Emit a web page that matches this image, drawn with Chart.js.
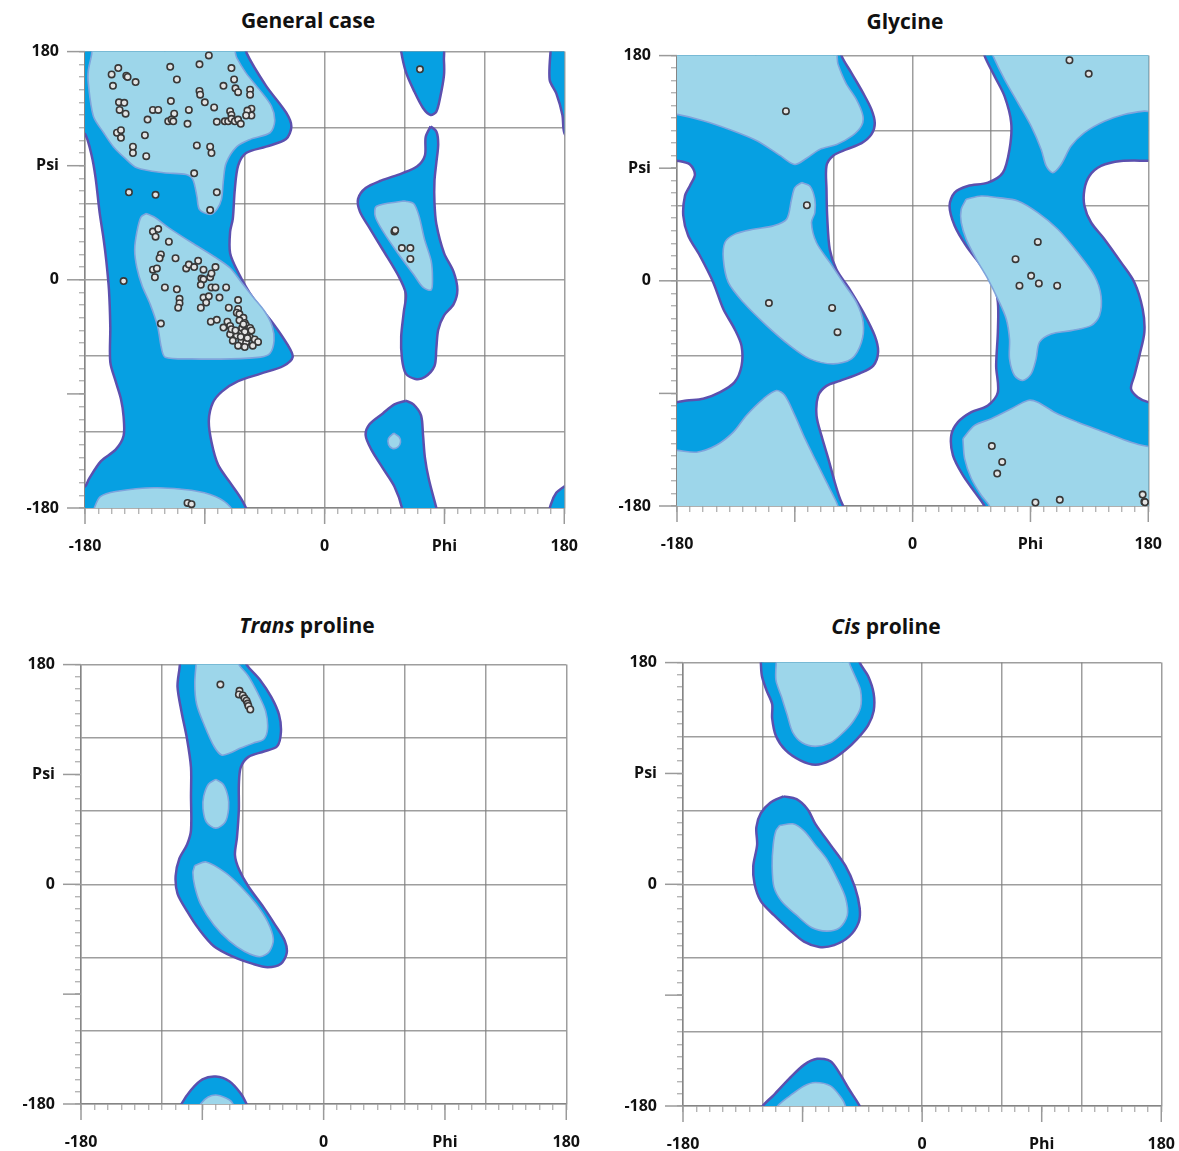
<!DOCTYPE html>
<html>
<head>
<meta charset="utf-8">
<script src="https://cdn.jsdelivr.net/npm/chart.js"></script>
<style>
  body { margin: 0; background: #fff; width: 1179px; height: 1151px; position: relative; overflow: hidden; font-family: 'Open Sans', sans-serif; }
  .titulo { position: absolute; width: 400px; text-align: center; font-weight: bold; font-size: 21px; color: #111; }
  canvas { position: absolute; }
</style>
</head>
<body>
<div class="titulo" style="left:108px;top:6px">General case</div>
<div class="titulo" style="left:705px;top:7px">Glycine</div>
<div class="titulo" style="left:107px;top:611px"><i>Trans</i> proline</div>
<div class="titulo" style="left:686px;top:612px"><i>Cis</i> proline</div>
<canvas id="general"></canvas>
<canvas id="glicina"></canvas>
<canvas id="trans"></canvas>
<canvas id="cis"></canvas>
<script>
// etiquetas de los ejes
const phiValores = [-180, 0, 90, 180]
const phiEtiquetas = ['-180', '0', 'Phi', '180']
const psiValores = [-180, 0, 90, 180]
const psiEtiquetas = ['-180', '0', 'Psi', '180']
const marcasMayores = [-180, -90, 0, 90, 180]

// General case: regiones permitidas (azul oscuro)
const generalPermitida1 = [[-185,185],[-58,185],[-58.7,179],[-44,153],[-29,132],[-25,121],[-29,111],[-44,105],[-59,100],[-65,90],[-67.5,71],[-69,48],[-71,38],[-71,21],[-65,6],[-54,-14],[-39,-34],[-28,-51],[-24,-61],[-31,-68],[-48,-74],[-65,-80],[-77,-88],[-84,-97],[-87,-111],[-85,-128],[-80,-146],[-71,-160],[-62,-174],[-59,-185],[-185,-185],[-185,-163],[-180,-163],[-177,-157],[-168,-143],[-157,-134],[-151,-123],[-151,-108],[-153,-94],[-157,-80],[-161,-65],[-161,-37],[-162,-8],[-164,15],[-166,32],[-169,53],[-172,80],[-175,98],[-180,115],[-185,115]]
const generalPermitida2 = [[79.6,121],[83.9,117],[85.3,107],[83.9,92.5],[82.5,78],[82.5,61],[83.9,44],[89.7,21],[96.8,6.4],[99.7,-8],[96.8,-19.4],[89.7,-28],[85.3,-39.5],[83.9,-54],[82.5,-68],[75.3,-76.7],[68.1,-78.2],[61,-74],[58.1,-62.4],[57.5,-45],[59.5,-25],[61,-11],[55.2,3.6],[43.7,23.7],[33.7,41],[26.5,53.8],[25.1,63.8],[30.8,72.4],[42.3,78.2],[58.1,84],[69.6,89.6],[75.3,98],[75.9,112.6]]
const generalPermitida3 = [[57.5,185],[57.5,180],[61,164],[66.7,150],[73.9,135.5],[79.6,130],[83.9,132.7],[86.8,144],[89.6,161],[89.6,173],[88.2,185]]
const generalPermitida4 = [[61,-95.4],[66.7,-98.3],[72.4,-107],[73.9,-122.6],[75.3,-140],[78.2,-157],[83.9,-180],[85,-185],[57,-185],[58.1,-180],[52.4,-163],[43.7,-148.5],[35.1,-134],[30.8,-122.6],[33.7,-114],[43.7,-105.4],[52.4,-98.3]]
const generalPermitida5 = [[170,185],[169,158],[174,147],[178.6,130],[180,116],[185,110],[185,185]]
const generalPermitida6 = [[185,-160],[180,-163],[174,-168],[170,-177],[169,-185],[185,-185]]
// General case: regiones favorecidas (azul claro)
const generalFavorecida1 = [[-175,185],[-175,178],[-177.5,165],[-177.5,155],[-173.7,129],[-166,116],[-158.7,105],[-150,96],[-141,88.4],[-121,84.4],[-104,83],[-99,79],[-96,66],[-94,55.5],[-86,51.6],[-81,55.5],[-77.5,63.4],[-76,79],[-74,92],[-66,105],[-56,110.7],[-41,116],[-37.5,125],[-40,137],[-49,150],[-59,163],[-66,175],[-70,185]]
const generalFavorecida2 = [[-134,52.3],[-128,49.5],[-117,41],[-100,29.4],[-82.5,18],[-71,9.3],[-62.4,-2.2],[-53.8,-13.6],[-45,-25],[-39.4,-36.6],[-38,-48],[-41,-58],[-48,-61],[-71,-62.4],[-99.7,-62.4],[-119.8,-61],[-122.6,-53.8],[-125.5,-36.6],[-131,-19.4],[-137,-5],[-141,9.3],[-142.7,23.7],[-141,38],[-138,49.5]]
const generalFavorecida3 = [[-174,-185],[-173,-180],[-168.5,-171],[-157,-167],[-128,-164],[-100,-166],[-82,-171],[-71,-179],[-70,-185]]
const generalFavorecida4 = [[58,62],[39,58],[38,50],[44,38],[55,21],[67,4],[74,-6],[80,-8],[81,1],[80,15],[75,32],[71,50],[67,60],[61,62]]
const generalFavorecida5 = [[52,-121],[56,-124],[57,-128],[55,-132],[51,-133],[48,-130],[48,-125]]
const generalPuntos = [
  [-160,162],[-155,167],[-149,161],[-148,160],[-142,156],[-159,153],[-116,168],[-111,158],[-94,170],[-87,177],
  [-70,167],[-68,158],[-76,153],[-94,149],[-93.5,146],[-67,151],[-65,148],[-56,150],[-56,146],[-115.5,141],
  [-90,140],[-83,136],[-154.5,140],[-150.5,139.6],[-154,134],[-149.5,131],[-129,134],[-125,134],[-113,131],[-102,134],
  [-71,133],[-70,130],[-55,135],[-55,129.6],[-58,133.5],[-59,129.6],[-133,126.4],[-117.5,125],[-115,126.4],[-113.7,125],
  [-103,123],[-81,124.6],[-75,125],[-72.5,125],[-70,127],[-67.5,125],[-65,126.4],[-63,123],[-156,116],[-153,118],
  [-153,112],[-135,114],[-144,105],[-144,100],[-134,97.5],[-96,106],[-86,105],[-85,100],[-98,84],[-147,69],
  [-127,67],[-81,69],[-86,55],[-151,-1],
  [-129,38],[-125,40],[-127,34],[-117,30],[-123,20],[-124,17],[-112,17],[-129,8],[-126,9],[-127.5,2],
  [-104,9],[-102,12],[-98,10],[-95,15],[-91,8],[-82,10],[-92.5,1],[-91,0.4],[-86,2],[-85,5],
  [-120,-6],[-111,-7.5],[-93,-4],[-85,-6],[-82,-6],[-74,-6],[-109,-15],[-109,-18.5],[-110,-22],[-91,-14],
  [-87,-13],[-89,-18],[-79,-14],[-93,-22],[-72,-22],[-65,-16],[-65,-23],[-123,-34.5],[-85.5,-33],[-81,-31.6],
  [-76,-37.7],[-73,-33],[-71,-36.4],[-66,-26],[-64,-27],[-61,-30],[-64,-32],[-60,-34],[-59,-36],[-56,-38],
  [-61,-40],[-64,-42],[-57.5,-42],[-66,-44],[-60,-44],[-56,-45.5],[-62.5,-48],[-59,-49.5],[-65,-52],[-69,-48],
  [-71,-43],[-70,-39],[-55,-40],[-52.5,-47],[-50,-49],[-54,-52],[-60,-53],[-62,-38],[-60,-41],[-63,-45],
  [-58,-46],[-61,-35],[-67,-40],
  [-103,-176],[-100,-177],[52.4,38],[53,39],[58,25],[64.4,25],[64.4,16.5],[71.6,166]
]

// Glycine
const glicinaPermitida1 = [[-185,185],[-54,185],[-54.4,180],[-46.7,166],[-37.8,150],[-31.5,137],[-28.9,126],[-31.5,117],[-39,110],[-50.6,105],[-60.7,100],[-65.8,92],[-65.8,73],[-65.3,52],[-63.3,25],[-58.2,9],[-48,-7],[-37.8,-25],[-28.9,-44],[-26.4,-57],[-30.2,-68],[-40.4,-74],[-55.6,-80],[-65.8,-84],[-72.2,-92],[-73.4,-108],[-69.6,-124],[-64.5,-142],[-59.5,-161],[-55.6,-174],[-53.1,-180],[-52,-185],[-185,-185],[-185,-97],[-180,-97],[-172.6,-95.6],[-160,-94.3],[-147,-89],[-136,-81],[-130.7,-68],[-130.7,-52],[-136,-38.5],[-144.6,-22.5],[-152.3,-1.3],[-162.5,20],[-171.4,36],[-175.2,52],[-173.9,68],[-170.1,76],[-166.3,85],[-170.1,93],[-180,96],[-185,96]]
const glicinaPermitida2 = [[54.9,185],[54.9,180],[62.6,163.5],[70.2,147.6],[75.3,126.3],[74,105],[68.9,86.4],[57.5,78.5],[42.2,75.8],[32.1,70.5],[28.2,60],[32.1,44],[40.9,28],[52.4,12],[61.3,-1.3],[65.1,-17],[65.1,-41],[63.8,-68],[65.1,-89],[57.5,-99.6],[44.8,-105],[34.6,-113],[29.5,-123.6],[30.8,-139.5],[38.4,-155.4],[47.3,-168.7],[54.9,-180],[56,-185],[185,-185],[185,-97],[180,-97],[171.9,-93],[166.8,-86.3],[169.4,-75.7],[173.2,-59.8],[177,-41],[175.7,-22.5],[169.4,-1.3],[159.2,14.7],[146.5,33.3],[136.3,46.6],[131.2,60],[131.2,73],[135,83.8],[143.9,91.8],[159.2,95.7],[180,96],[185,96],[185,185]]
const glicinaFavorecida1 = [[-185,185],[-185,133],[-180,133],[-160,128],[-140,121],[-119,112],[-101,100],[-90,93],[-81,98],[-71,105],[-58,109],[-46,116],[-39,124],[-38,132],[-43,145],[-51,158],[-57,173],[-60,185]]
const glicinaFavorecida2 = [[-84.9,78.5],[-78.5,75.8],[-74.7,65.2],[-74.7,54.5],[-77.3,46.6],[-73.5,30.6],[-63.3,14.7],[-53.1,-1.3],[-42.9,-17.2],[-37.8,-33.2],[-39.1,-49.1],[-46.7,-62.4],[-60.7,-66.4],[-78.5,-62.4],[-93.8,-51.8],[-111.6,-35.8],[-129.4,-17.2],[-140.8,-1.3],[-144.6,17.3],[-143.4,30.6],[-135.8,37.3],[-121.8,41.2],[-106.5,43.9],[-96.3,49.2],[-92.5,65.2],[-90,74.5]]
const glicinaFavorecida3 = [[-185,-135.5],[-180,-135.5],[-165,-137],[-150,-131.5],[-137,-121],[-127,-107.6],[-114,-94.3],[-104,-87.7],[-97.6,-91.7],[-90,-107.6],[-82.3,-126],[-73.4,-145],[-65.8,-161],[-59.5,-174],[-57,-180],[-56,-185],[-185,-185]]
const glicinaFavorecida4 = [[60,185],[61.3,180],[70.2,161],[80.4,142.3],[90.5,123.6],[98.2,105],[102,91.8],[107,86.4],[113.4,93],[121,107.7],[131,118.3],[146.5,127.6],[161.7,133],[177,135.6],[185,136],[185,185]]
const glicinaFavorecida5 = [[40.9,65.2],[52.4,67.8],[65.1,66.5],[80.4,63.8],[95.6,54.5],[110.9,41.2],[126.1,22.6],[138.9,4],[143.9,-12],[142.7,-28],[136.3,-35.8],[121,-39.8],[105.8,-42.5],[96.9,-49],[94.3,-62.4],[90.5,-74.4],[84.2,-79.7],[77.8,-75.7],[74,-62.4],[74,-46.5],[71.5,-30.5],[65.1,-14.6],[57.5,1.4],[48.6,17.3],[40.9,33.3],[37.1,46.6],[37.1,57.2]]
const glicinaFavorecida6 = [[38.4,-126.2],[47.3,-115.6],[60,-110.3],[75.3,-102.3],[88,-95.6],[95.6,-97],[108.3,-105],[126.1,-113],[146.5,-121],[166.8,-129],[180,-132.5],[185,-133],[185,-185],[59,-185],[58.7,-180],[52.4,-171.4],[44.8,-158],[39.7,-142.2]]
const glicinaPuntos = [[-96.8,135.6],[-80.8,60.4],[-109.8,-17.8],[-61.5,-21.7],[-57.4,-41.1],[119.8,176.3],[134.5,165.4],[95.6,31.1],[78.6,17.3],[90.5,4],[81.6,-3.9],[96.4,-2.1],[110.4,-3.9],[60.5,-132.1],[68.4,-144.8],[64.6,-154.1],[93.8,-177.2],[112.4,-175.1],[175.7,-170.9],[177,-176.7],[177.5,-177]]

// Trans proline
const transPermitida1 = [[-105.5,185],[-57.2,185],[-57.2,180],[-47.3,167.6],[-38.8,153.3],[-33.1,138.9],[-31.7,124.6],[-34.5,113.1],[-44.4,108.8],[-55.8,104.4],[-61.5,95.8],[-62.9,81.5],[-62.9,61.4],[-64.3,38.4],[-65.8,24],[-62.9,12.5],[-55.8,-1.8],[-44.4,-19.1],[-35.9,-33.4],[-28.8,-46.4],[-27.4,-56.4],[-31.7,-65],[-41.6,-67.9],[-53,-65],[-67.2,-59.3],[-81.4,-50.7],[-92.8,-36.3],[-101.3,-22],[-108.4,-7.6],[-109.8,6.8],[-107,21.1],[-101.3,32.6],[-98.4,44.1],[-98.4,72.8],[-98.4,95.8],[-101.3,118.8],[-105.5,141.8],[-108.4,161.9],[-107,176.3],[-106,185]]
const transPermitida2 = [[-107,-185],[-105.5,-180],[-98.4,-168.5],[-89.9,-159.8],[-80,-157.5],[-70,-161.3],[-61.5,-171.3],[-57.2,-180],[-56,-185]]
const transFavorecida1 = [[-94.2,185],[-95.6,164.8],[-94.2,147.5],[-88.5,130.3],[-81.4,113.1],[-75.7,105.9],[-70,107.3],[-61.5,111.6],[-51.6,115.9],[-44.4,118.8],[-41.6,127.4],[-43,141.8],[-48.7,156.2],[-55.8,170.5],[-62.9,180],[-64,185]]
const transFavorecida2 = [[-80,86],[-74.5,82],[-71,72],[-70.5,62],[-73,51],[-80,46],[-87,51],[-89.5,62],[-89,72],[-85.5,82]]
const transFavorecida3 = [[-95.6,15.4],[-87.1,18.3],[-72.9,9.6],[-61.5,-1.8],[-50.1,-16.2],[-41.6,-30.6],[-37.3,-44.9],[-40.2,-55],[-47.3,-59.3],[-58.7,-55],[-70,-46.4],[-81.4,-33.4],[-91.3,-16.2],[-95.6,-1.8],[-97,9.6]]
const transFavorecida4 = [[-93,-185],[-91.3,-180],[-85.7,-174.2],[-78.6,-172.8],[-70,-176.5],[-67.2,-180],[-66,-185]]
const transPuntos = [[-76.6,163.6],[-62.4,158.5],[-62.9,155.6],[-60,154.7],[-58.7,152.4],[-57.2,150.4],[-56.4,148.1],[-55.8,146.1],[-54.4,143.2]]

// Cis proline
const cisPermitida1 = [[-121.4,185],[-47,185],[-47,180],[-40.7,169.1],[-36.5,154.9],[-36.5,140.6],[-40.7,129.1],[-49.2,117.7],[-57.7,109.1],[-69,100.6],[-80.4,97.1],[-91.7,100.6],[-103,109.1],[-110.1,120.6],[-112.9,134.9],[-112.9,146.3],[-117.2,157.7],[-120.6,169.1],[-121.4,180]]
const cisPermitida2 = [[-104.4,71.4],[-94.5,69.1],[-86,60.6],[-80.4,49.1],[-69,32],[-57.7,14.9],[-50.6,-2.3],[-47,-19.4],[-47.8,-30.9],[-54.9,-42.3],[-66.2,-49.4],[-77.5,-50.9],[-88.9,-46.6],[-100.2,-36.6],[-111.5,-25.1],[-121.4,-13.7],[-126.2,0.6],[-127.1,14.9],[-124.2,32],[-124.8,46.3],[-121.4,57.7],[-114.3,66.3]]
const cisPermitida3 = [[-121,-185],[-120,-180],[-111.5,-170.9],[-100.2,-158],[-88.9,-146.6],[-79,-141.7],[-69,-143.7],[-62,-153.7],[-54.9,-166.6],[-47,-180],[-46,-185]]
const cisFavorecida1 = [[-109.5,185],[-110.1,166.3],[-105.8,152],[-101.6,137.7],[-97.4,123.4],[-90.3,114.9],[-80.4,112],[-69,114.9],[-60.6,122],[-52.1,132],[-46.4,143.4],[-46.4,157.7],[-50.6,169.1],[-54.9,180],[-55,185]]
const cisFavorecida2 = [[-107.3,47.7],[-97.4,49.1],[-88.9,43.4],[-80.4,32],[-71.9,20.6],[-63.4,3.4],[-57.7,-10.9],[-56.3,-25.1],[-62,-35.1],[-71.9,-38],[-83.2,-35.1],[-94.5,-25.1],[-105.8,-13.7],[-111.5,-2.3],[-112.9,14.9],[-112.1,32],[-110.1,43.4]]
const cisFavorecida3 = [[-110,-185],[-108.7,-180],[-100.2,-172.3],[-88.9,-163.7],[-80.4,-160.9],[-69,-163.7],[-60.6,-173.7],[-57.7,-180],[-57,-185]]
const cisPuntos = []

const AZUL = '#06a0e2'
const CELESTE = '#9dd6ea'
const MORADO = '#5c50ae'
const BORDE_CLARO = '#7fa4dc'
const GRIS = 'rgba(125,125,125,0.75)'
const FUENTE = {family: "'Open Sans', sans-serif", size: 16, weight: 'bold'}
const YW = 80, XH = 52

const aXY = lista => lista.map(p => ({x: p[0], y: p[1]}))
const cerrar = lista => aXY(lista.concat([lista[0]]))

const etiquetar = (valores, textos) => {
  const mapa = {}
  valores.forEach((v, i) => { mapa[v] = textos[i] })
  return v => (mapa[v] !== undefined ? mapa[v] : '')
}

const marcas = {
  id: 'marcas',
  afterDraw(chart) {
    const {ctx, chartArea, scales} = chart
    ctx.save()
    ctx.strokeStyle = '#9a9a9a'
    ctx.lineWidth = 1.5
    marcasMayores.forEach(v => {
      const x = scales.x.getPixelForValue(v)
      ctx.beginPath()
      ctx.moveTo(x, chartArea.bottom)
      ctx.lineTo(x, chartArea.bottom + 16)
      ctx.stroke()
      const y = scales.y.getPixelForValue(v)
      ctx.beginPath()
      ctx.moveTo(chartArea.left - 18, y)
      ctx.lineTo(chartArea.left, y)
      ctx.stroke()
    })
    ctx.restore()
  }
}

function eje(etiquetas, esX) {
  return {
    type: 'linear', min: -180, max: 180, z: 1,
    ticks: {
      stepSize: 10, autoSkip: false, maxRotation: 0, padding: esX ? 23 : 20,
      font: FUENTE, color: '#111', callback: etiquetas
    },
    grid: {
      color: c => (c.tick && c.tick.value % 60 === 0 ? GRIS : 'rgba(0,0,0,0)'),
      lineWidth: 1.5, tickLength: 6, tickColor: '#a8a8a8', tickWidth: 1.2
    },
    border: {color: GRIS, width: 1.5},
    afterFit: s => { if (esX) s.height = XH; else s.width = YW }
  }
}

function configurar(permitidas, favorecidas, puntos) {
  const datasets = [{
    type: 'scatter', data: aXY(puntos), order: 0, clip: 6,
    pointRadius: 3.2, pointBorderWidth: 1.6,
    backgroundColor: '#e4e4e4', borderColor: '#383838'
  }]
  favorecidas.forEach(r => datasets.push({
    type: 'line', data: cerrar(r), order: 1, clip: 0, fill: 'shape',
    backgroundColor: CELESTE, borderColor: BORDE_CLARO, borderWidth: 1.6,
    pointRadius: 0, tension: 0.3
  }))
  permitidas.forEach(r => datasets.push({
    type: 'line', data: cerrar(r), order: 2, clip: 0, fill: 'shape',
    backgroundColor: AZUL, borderColor: MORADO, borderWidth: 2.5,
    pointRadius: 0, tension: 0.3
  }))
  return {
    type: 'scatter',
    data: {datasets},
    options: {
      responsive: false, animation: false, events: [],
      layout: {padding: 0},
      elements: {line: {capBezierPoints: false}},
      plugins: {legend: {display: false}, tooltip: {enabled: false}},
      scales: {
        x: eje(etiquetar(phiValores, phiEtiquetas), true),
        y: eje(etiquetar(psiValores, psiEtiquetas), false)
      }
    },
    plugins: [marcas]
  }
}

function dibujar(id, area, permitidas, favorecidas, puntos) {
  const lienzo = document.getElementById(id)
  const ancho = area.right - area.left, alto = area.bottom - area.top
  lienzo.width = ancho + YW + 30
  lienzo.height = alto + XH + 20
  // primera pasada para medir cuanto espacio ocupan las etiquetas
  let grafico = new Chart(lienzo, configurar(permitidas, favorecidas, puntos))
  let ca = grafico.chartArea
  const w = lienzo.width + ancho - (ca.right - ca.left)
  const h = lienzo.height + alto - (ca.bottom - ca.top)
  grafico.destroy()
  lienzo.width = w
  lienzo.height = h
  grafico = new Chart(lienzo, configurar(permitidas, favorecidas, puntos))
  ca = grafico.chartArea
  lienzo.style.left = (area.left - ca.left) + 'px'
  lienzo.style.top = (area.top - ca.top) + 'px'
}

dibujar('general', {left: 85, top: 52, right: 565, bottom: 509},
  [generalPermitida1, generalPermitida2, generalPermitida3, generalPermitida4, generalPermitida5, generalPermitida6],
  [generalFavorecida1, generalFavorecida2, generalFavorecida3, generalFavorecida4, generalFavorecida5],
  generalPuntos)
dibujar('glicina', {left: 677, top: 56, right: 1149, bottom: 507},
  [glicinaPermitida1, glicinaPermitida2],
  [glicinaFavorecida1, glicinaFavorecida2, glicinaFavorecida3, glicinaFavorecida4, glicinaFavorecida5, glicinaFavorecida6],
  glicinaPuntos)
dibujar('trans', {left: 81, top: 665, right: 567, bottom: 1105},
  [transPermitida1, transPermitida2],
  [transFavorecida1, transFavorecida2, transFavorecida3, transFavorecida4],
  transPuntos)
dibujar('cis', {left: 683, top: 663, right: 1162, bottom: 1107},
  [cisPermitida1, cisPermitida2, cisPermitida3],
  [cisFavorecida1, cisFavorecida2, cisFavorecida3],
  cisPuntos)
</script>
</body>
</html>
